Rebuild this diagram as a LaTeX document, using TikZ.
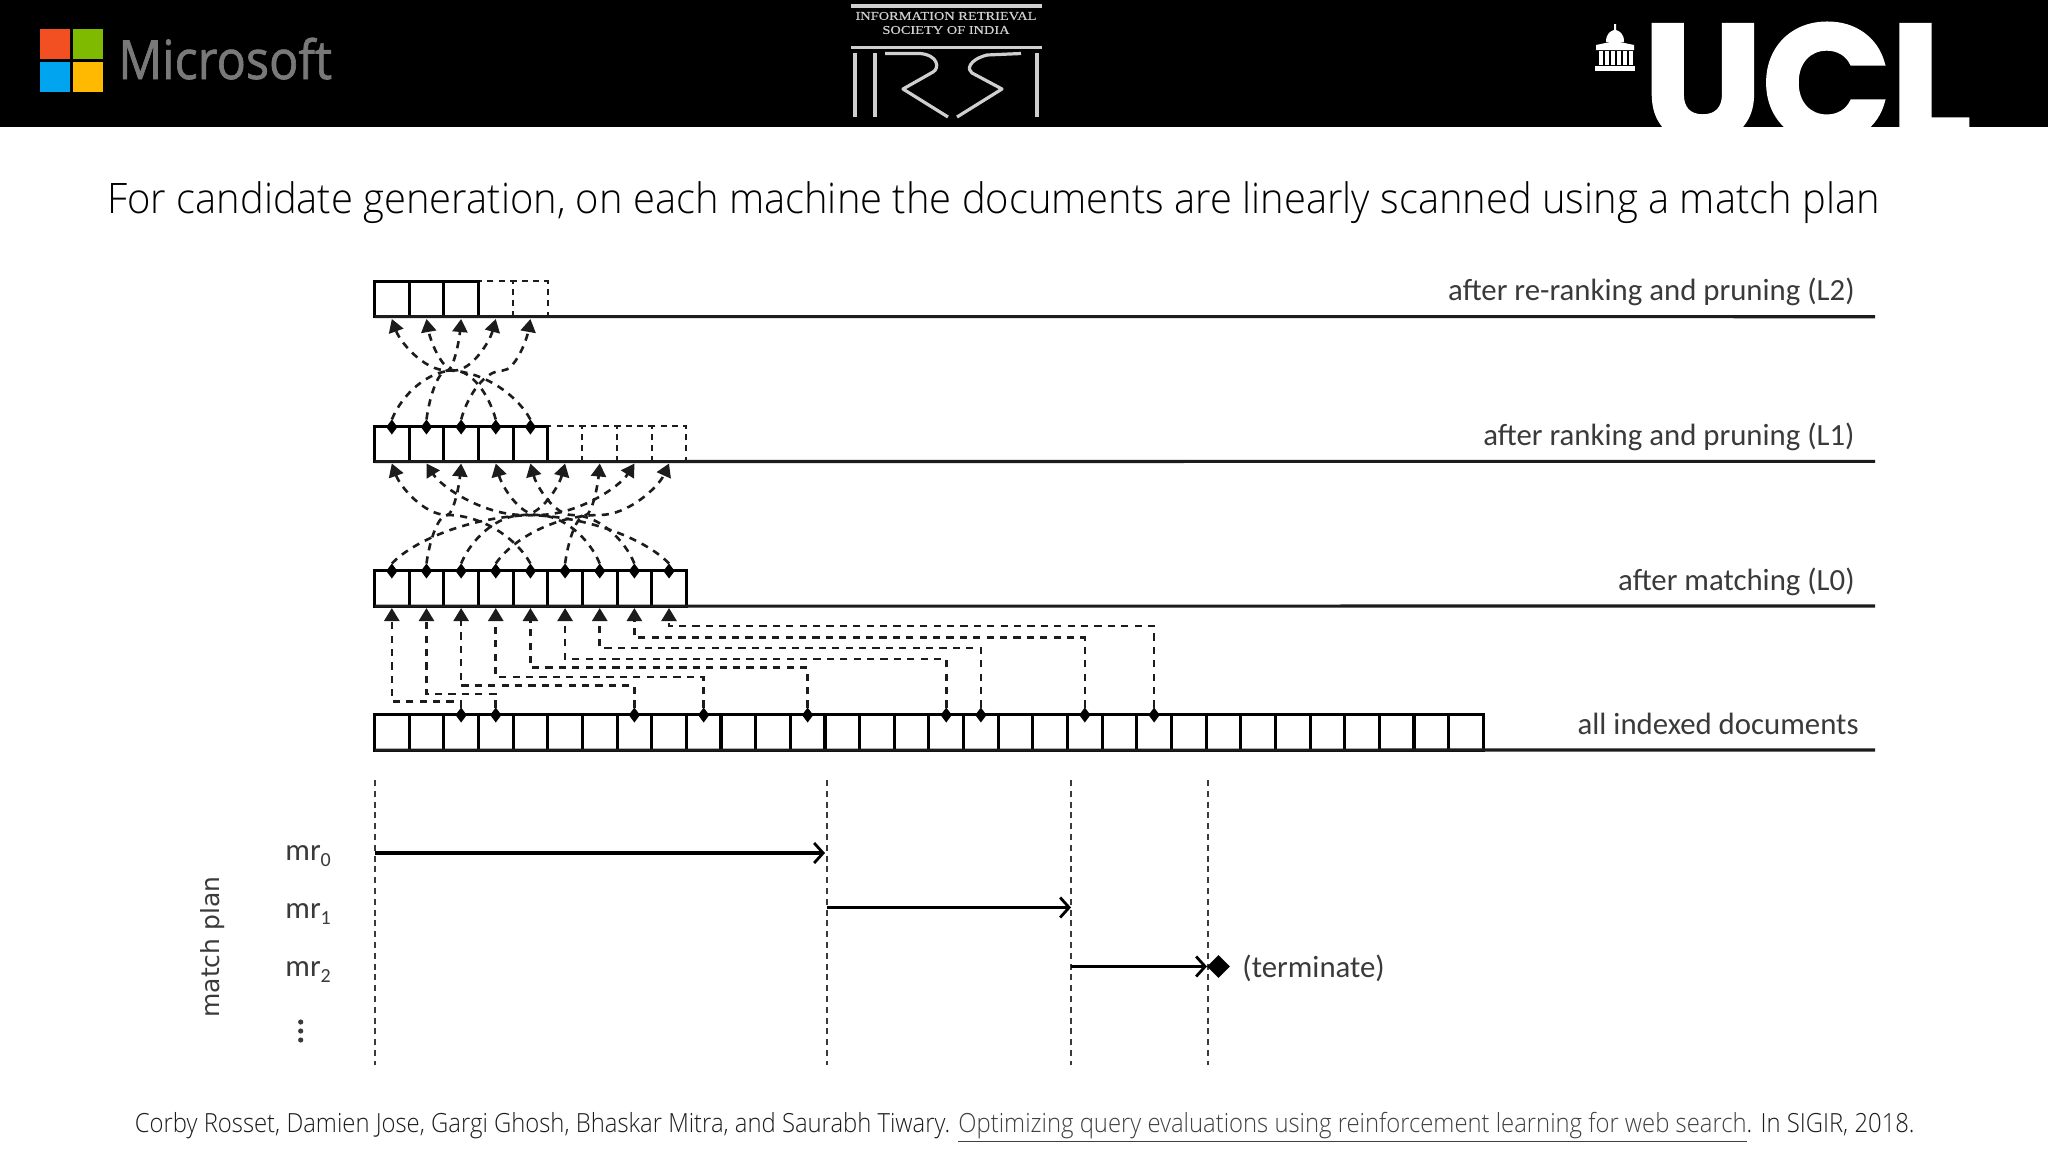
\documentclass[tikz,border=0pt]{standalone}
\usepackage{fontspec}
\usetikzlibrary{arrows.meta,shapes.geometric}
\setmainfont{Carlito}
\newfontfamily\lightfont{Open Sans Light}[FakeStretch=0.95]
\newfontfamily\citefont{Open Sans Light}[FakeStretch=0.903]
\newfontfamily\msfont{Open Sans}[FakeStretch=0.9,FakeBold=1.2]
\newfontfamily\uclfont{Poppins}[BoldFeatures={FakeBold=2,FakeStretch=1.015}]
\newfontfamily\djfont{DejaVu Sans}
\newfontfamily\irsifont{Liberation Serif}[FakeStretch=1.2,FakeBold=0.5]
\definecolor{ink}{HTML}{1C1C1C}
\definecolor{softink}{HTML}{3A3A3A}
\definecolor{logo}{HTML}{CFCFCF}
\definecolor{msred}{HTML}{F25022}
\definecolor{msgreen}{HTML}{7FBA00}
\definecolor{msblue}{HTML}{00A4EF}
\definecolor{msyellow}{HTML}{FFB900}
\tikzset{
  x=0.5pt,y=-0.5pt,
  cell/.style={draw=black,rectangle,line width=1.55pt,minimum width=17.325pt,minimum height=17.6pt,inner sep=0pt,outer sep=0pt},
  ghost/.style={draw=ink,rectangle,line width=1pt,dash pattern=on 3pt off 2.6pt,minimum width=17.325pt,minimum height=17.6pt,inner sep=0pt,outer sep=0pt},
  dmd/.style={diamond,fill=black,inner sep=0pt,minimum width=5.6pt,minimum height=7.5pt,outer sep=0pt},
  link/.style={draw=ink,line width=1.3pt,dash pattern=on 3.6pt off 3.1pt,-{Triangle[length=6.5pt,width=7.5pt]}},
  base/.style={draw=ink,line width=1.55pt},
  lab/.style={anchor=base east,inner sep=0pt,font=\fontsize{15.4}{18}\selectfont,text=softink},
  mrlab/.style={anchor=base west,inner sep=0pt,font=\fontsize{15.4}{18}\selectfont,text=softink},
  tick/.style={draw=softink,line width=0.55pt,dash pattern=on 3pt off 2.4pt},
  run/.style={draw=black,line width=1.8pt,-{Straight Barb[length=4.5pt,width=10pt,line width=1.4pt]}},
  logoline/.style={draw=logo,line width=1.6pt,line join=round},
}
\newcommand{\cx}[1]{374.5+34.65*(#1+0.5)}
\newcommand{\lowsub}[1]{\raisebox{-3.2pt}{\fontsize{10}{10}\selectfont #1}}
% two arcs meeting flat at height #3: from diamond node #1 to target #2; #4,#5 = slot numbers; #6,#7 = start and end heights
\newcommand{\arcpair}[7]{%
  \pgfmathsetmacro\xs{\cx{#4}}%
  \pgfmathsetmacro\xa{\cx{#5}}%
  \pgfmathsetmacro\xm{\xs+0.6*(\xa-\xs)}%
  \pgfmathsetmacro\qa{\xs+0.1*(\xa-\xs)}%
  \pgfmathsetmacro\qb{\xa-0.06*(\xa-\xs)}%
  \pgfmathsetmacro\pa{#6-0.55*(#6-#3)}%
  \pgfmathsetmacro\pb{\xm-0.42*(\xm-\xs)}%
  \pgfmathsetmacro\pc{\xm+0.42*(\xa-\xm)}%
  \pgfmathsetmacro\pd{#3-0.55*(#3-#7)}%
  \draw[link] (#1) .. controls (\qa,\pa) and (\pb,#3) .. (\xm,#3) .. controls (\pc,#3) and (\qb,\pd) .. (#2);%
}
\begin{document}
\begin{tikzpicture}
\useasboundingbox (0,0) rectangle (2048,1152);
\fill[white] (0,0) rectangle (2048,1152);
% header band
\fill[black] (0,0) rectangle (2048,126.5);
% Microsoft logo
\fill[msred] (40,29) rectangle (70,59);
\fill[msgreen] (73,29) rectangle (103,59);
\fill[msblue] (40,62) rectangle (70,92);
\fill[msyellow] (73,62) rectangle (103,92);
\node[anchor=base west,inner sep=0pt,text=gray!95!black] (mslogo) at (118,79) {\msfont\fontsize{27}{30}\selectfont Microsoft};
% IRSI logo
\draw[logoline] (851,6) -- (1042,6);
\draw[logoline] (851,47.5) -- (1042,47.5);
\node[inner sep=0pt,text=logo] (irsiA) at (946,16) {\irsifont\fontsize{6}{7}\selectfont INFORMATION RETRIEVAL};
\node[inner sep=0pt,text=logo] (irsiB) at (946,30) {\irsifont\fontsize{6}{7}\selectfont SOCIETY OF INDIA};
\draw[logoline,line width=2pt] (855,53) -- (855,117);
\draw[logoline,line width=2pt] (875,53) -- (875,117);
\draw[logoline,line width=2pt] (1037,53) -- (1037,117);
\draw[logoline] (885,53.5) -- (920,53.5) .. controls (938,55) and (940,68) .. (933,72) -- (903,89) -- (948,117);
\draw[logoline] (1021,53.5) -- (987,55) .. controls (968,60) and (967,70) .. (972,73) -- (1002,89) -- (957,117);
% UCL logo
\begin{scope}
\clip (0,0) rectangle (2048,126.5);
\node[anchor=base west,inner sep=0pt,text=white] (ucl) at (1643,141) {\uclfont\bfseries\fontsize{83}{90}\selectfont UCL};
\end{scope}
% temple
\fill[white] (1595,66) rectangle (1635,71);
\fill[white] (1596,45) -- (1615,41) -- (1634,45) -- (1634,50) -- (1596,50) -- cycle;
\foreach \i in {0,...,5}{\fill[white] (1599+\i*6,51) rectangle (1602.5+\i*6,65);}
\fill[white] (1606,42) .. controls (1606,33) and (1611,31) .. (1614,30) -- (1614,24) -- (1616,24) -- (1616,30) .. controls (1619,31) and (1624,33) .. (1624,42) -- cycle;
% title
\node[anchor=base west,inner sep=0pt,text=black] (title) at (107,213.5) {\lightfont\fontsize{21}{25}\selectfont For candidate generation, on each machine the documents are linearly scanned using a match plan};
% level lines
\coordinate (e2) at (1875,316.7);
\coordinate (e1) at (1875,461.3);
\coordinate (e0) at (1875,606);
\coordinate (eb) at (1875,750);
% ghost cells
\foreach \i in {3,4}{\node[ghost] (L2g\i) at ({\cx{\i}},299) {};}
\foreach \i in {5,...,8}{\node[ghost] (L1g\i) at ({\cx{\i}},444) {};}
% solid cells
\foreach \i in {0,...,2}{\node[cell] (L2c\i) at ({\cx{\i}},299) {};}
\foreach \i in {0,...,4}{\node[cell] (L1c\i) at ({\cx{\i}},444) {};}
\foreach \i in {0,...,8}{\node[cell] (L0c\i) at ({\cx{\i}},588.5) {};}
\foreach \i in {0,...,31}{\node[cell] (Bc\i) at ({\cx{\i}},732.5) {};}
\draw[base] (L2c0.south west) -- (e2);
\draw[base] (L1c0.south west) -- (e1);
\draw[base] (L0c0.south west) -- (e0);
\draw[base] (Bc0.south west) -- (eb);
% diamonds
\foreach \i in {0,...,4}{\node[dmd] (L1d\i) at ({\cx{\i}},427) {};}
\foreach \i in {0,...,8}{\node[dmd] (L0d\i) at ({\cx{\i}},571) {};}
\foreach \j/\i in {0/2,1/3,2/7,3/9,4/12,5/16,6/17,7/20,8/22}{\node[dmd] (Bd\j) at ({\cx{\i}},715) {};}
% arrow targets
\foreach \i in {0,...,4}{\coordinate (L2a\i) at ({\cx{\i}},319);}
\foreach \i in {0,...,8}{\coordinate (L1a\i) at ({\cx{\i}},463.5);}
\foreach \i in {0,...,8}{\coordinate (L0a\i) at ({\cx{\i}},608);}
% curves L1 -> L2
\foreach \a/\s in {0/4,1/3,2/1,3/0,4/2}{
  \arcpair{L1d\s.north}{L2a\a}{370.5}{\s}{\a}{423}{319}
}
% curves L0 -> L1
\foreach \a/\s in {0/4,1/8,2/1,3/6,4/7,5/2,6/5,7/0,8/3}{
  \arcpair{L0d\s.north}{L1a\a}{515}{\s}{\a}{567}{463.5}
}
% scan connectors
\foreach \j/\y in {0/701.7,1/694,2/685.7,3/677,4/667.7,5/659,6/648,7/637.7,8/626}{
  \pgfmathsetmacro\xa{\cx{\j}}
  \coordinate (h\j) at (\xa,\y);
  \draw[link] (Bd\j.north) |- (h\j) -- (L0a\j);
}
% level labels
\node[lab] (tL2) at (1855,300) {after re-ranking and pruning (L2)};
\node[lab] (tL1) at (1855,445) {after ranking and pruning (L1)};
\node[lab] (tL0) at (1855,590) {after matching (L0)};
\node[lab] (tB) at (1859,734) {all indexed documents};
% time ticks
\foreach \n/\x in {a/375,b/827,c/1071,d/1208}{
  \coordinate (\n t) at (\x,780);
  \coordinate (\n b) at (\x,1065);
  \draw[tick] (\n t) -- (\n b);
}
\coordinate (r0s) at (375,853);
\coordinate (r0e) at (825,853);
\coordinate (r1s) at (827,907.5);
\coordinate (r1e) at (1071,907.5);
\coordinate (r2s) at (1071,966.5);
\coordinate (r2e) at (1207,966.5);
\draw[run] (r0s) -- (r0e);
\draw[run] (r1s) -- (r1e);
\draw[run] (r2s) -- (r2e);
\node[diamond,fill=black,inner sep=0pt,minimum width=11.5pt,minimum height=11.5pt] (stop) at (1218.5,966.5) {};
\node[mrlab] (term) at (1242,977) {(terminate)};
\node[mrlab] (mr0) at (285,860) {mr\lowsub{0}};
\node[mrlab] (mr1) at (285,918) {mr\lowsub{1}};
\node[mrlab] (mr2) at (285,976) {mr\lowsub{2}};
\node[inner sep=0pt,rotate=90,text=softink] (mp) at (213,947) {\djfont\fontsize{12.5}{15}\selectfont match plan};
\fill[softink] (300.7,1022) circle (1.3pt) (300.7,1031) circle (1.3pt) (300.7,1040) circle (1.3pt);
% citation
\node[anchor=base west,inner sep=0pt,text=ink] (cite) at (134.5,1132) {\citefont\fontsize{13.2}{16}\selectfont Corby Rosset, Damien Jose, Gargi Ghosh, Bhaskar Mitra, and Saurabh Tiwary. {\color{gray!50!black}\underline{Optimizing query evaluations using reinforcement learning for web search}}. In SIGIR, 2018.};
\end{tikzpicture}
\end{document}
